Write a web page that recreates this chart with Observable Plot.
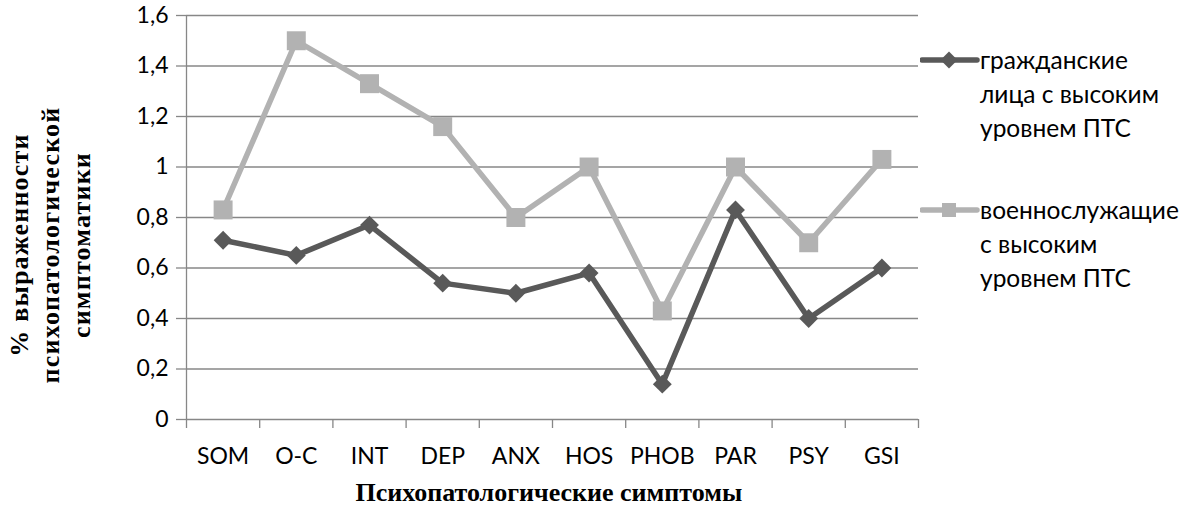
<!DOCTYPE html>
<html>
<head>
<meta charset="utf-8">
<script src="https://cdn.jsdelivr.net/npm/d3@7"></script>
<script src="https://cdn.jsdelivr.net/npm/@observablehq/plot@0.6"></script>
<style>
  html, body { margin: 0; padding: 0; background: #fff; }
  #wrap { position: relative; width: 1195px; height: 506px; overflow: hidden; }
  .ytitle { position: absolute; font-family: "Liberation Serif", "Times New Roman", serif; font-weight: bold; font-size: 26px; letter-spacing: 1.2px; color: #000; }
  .legend { position: absolute; left: 920px; font-family: Lato, "Open Sans", sans-serif; font-size: 24.5px; color: #000; }
  .entry { position: absolute; left: 0; width: 280px; }
  .entry svg { position: absolute; left: 0; top: 0; }
  .entry .txt { position: absolute; left: 60px; top: 0; line-height: 34px; white-space: nowrap; }
</style>
</head>
<body>
<div id="wrap"></div>
<script>
const categories = ["SOM", "O-C", "INT", "DEP", "ANX", "HOS", "PHOB", "PAR", "PSY", "GSI"];
const civilians = [0.71, 0.65, 0.77, 0.54, 0.50, 0.58, 0.14, 0.83, 0.40, 0.60];
const military = [0.83, 1.50, 1.33, 1.16, 0.80, 1.00, 0.43, 1.00, 0.70, 1.03];
const yTicks = [0, 0.2, 0.4, 0.6, 0.8, 1, 1.2, 1.4, 1.6];
const seriesNames = ["гражданские лица с высоким уровнем ПТС", "военнослужащие с высоким уровнем ПТС"];
const xTitle = "Психопатологические симптомы";
const yTitleLines = ["% выраженности", "психопатологической", "симптоматики"];

const darkColor = "#595959";
const lightColor = "#b2b2b2";
const gridColor = "#878787";

const civRows = categories.map((c, i) => ({i: i + 0.5, cat: c, v: civilians[i]}));
const milRows = categories.map((c, i) => ({i: i + 0.5, cat: c, v: military[i]}));
const fmt = d => String(d).replace(".", ",");

const chart = Plot.plot({
  width: 1195,
  height: 506,
  marginLeft: 186,
  marginRight: 277,
  marginTop: 15,
  marginBottom: 87,
  style: {fontFamily: "Lato, 'Open Sans', sans-serif", fontSize: "23px", color: "#000", background: "#fff"},
  x: {type: "linear", domain: [0, categories.length]},
  y: {domain: [0, 1.6]},
  marks: [
    Plot.ruleY(yTicks, {stroke: gridColor, strokeWidth: 1.3}),
    Plot.axisY({ticks: yTicks, tickSize: 10, tickPadding: 8, tickFormat: fmt, stroke: gridColor, strokeWidth: 1.3, strokeOpacity: 1, fill: "#000", label: null, fontSize: 23}),
    Plot.ruleX([0], {stroke: gridColor, strokeWidth: 1.3}),
    Plot.axisX({ticks: d3.range(0, categories.length + 1), tickSize: 9, tickFormat: () => "", stroke: gridColor, strokeWidth: 1.3, strokeOpacity: 1, label: null}),
    Plot.axisX({ticks: categories.map((c, i) => i + 0.5), tickSize: 0, tickPadding: 28, tickFormat: d => categories[Math.floor(d)], fill: "#000", label: null, fontSize: 23}),
    Plot.line(civRows, {x: "i", y: "v", stroke: darkColor, strokeWidth: 5.5, curve: "linear"}),
    Plot.dot(civRows, {x: "i", y: "v", symbol: "diamond2", r: 8.5, fill: darkColor, stroke: "none"}),
    Plot.line(milRows, {x: "i", y: "v", stroke: lightColor, strokeWidth: 5.5, curve: "linear"}),
    Plot.dot(milRows, {x: "i", y: "v", symbol: "square", r: 10.7, fill: lightColor, stroke: "none"}),
    Plot.text([xTitle], {frameAnchor: "bottom", x: categories.length / 2 - 0.05, dy: 81, fontFamily: "'Liberation Serif', 'Times New Roman', serif", fontWeight: "bold", fontSize: 26, fill: "#000", lineAnchor: "bottom"})
  ]
});

const wrap = document.getElementById("wrap");
wrap.appendChild(chart);

// Y title (three rotated lines)
const yt = document.createElement("div");
yt.className = "ytitle";
yt.style.left = "0px";
yt.style.top = "0px";
yt.style.width = "506px";
yt.style.height = "110px";
yt.style.transformOrigin = "0 0";
yt.style.transform = "translate(1px, 498px) rotate(-90deg)";
yt.style.textAlign = "center";
yt.style.lineHeight = "31px";
yt.style.paddingTop = "3px";
yt.innerHTML = yTitleLines.join("<br>");
wrap.appendChild(yt);

// Legend
const legend = document.createElement("div");
legend.className = "legend";
legend.style.top = "0px";
wrap.appendChild(legend);
const swatches = [
  `<svg width="60" height="34"><line x1="2" y1="17" x2="57" y2="17" stroke="${darkColor}" stroke-width="5.5" stroke-linecap="round"/><rect x="23" y="11" width="12" height="12" fill="${darkColor}" transform="rotate(45 29 17)"/></svg>`,
  `<svg width="60" height="34"><line x1="2" y1="17" x2="57" y2="17" stroke="${lightColor}" stroke-width="5.5" stroke-linecap="round"/><rect x="22" y="10" width="14" height="14" fill="${lightColor}"/></svg>`
];
const entryTops = [43, 193];
const entryLines = [["гражданские", "лица с высоким", "уровнем ПТС"], ["военнослужащие", "с высоким", "уровнем ПТС"]];
seriesNames.forEach((name, k) => {
  const e = document.createElement("div");
  e.className = "entry";
  e.style.top = entryTops[k] + "px";
  e.innerHTML = swatches[k] + `<div class="txt">${entryLines[k].join("<br>")}</div>`;
  legend.appendChild(e);
});
</script>
</body>
</html>
